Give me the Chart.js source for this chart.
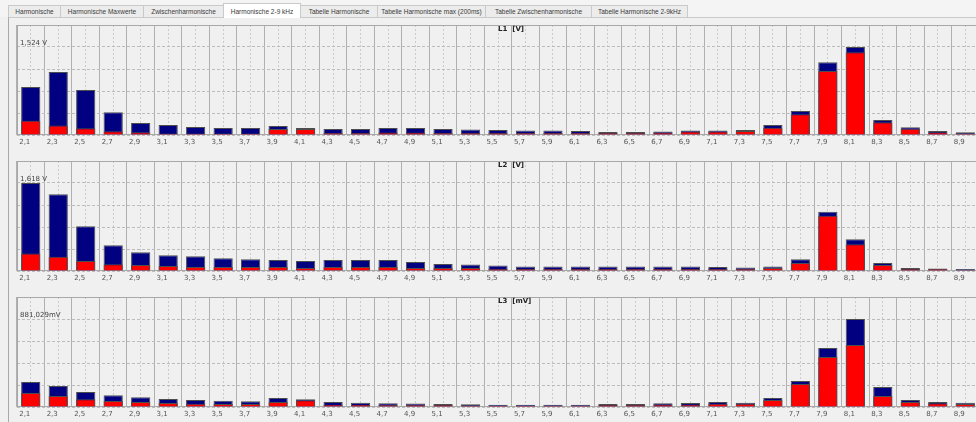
<!DOCTYPE html>
<html>
<head>
<meta charset="utf-8">
<script src="https://cdn.jsdelivr.net/npm/chart.js@4.4.1/dist/chart.umd.min.js"></script>
<style>
  html, body { margin: 0; padding: 0; background: #f0f0f0; width: 976px; height: 422px; overflow: hidden;
               font-family: "Liberation Sans", Arial, sans-serif; }
  #tabs { position: absolute; left: 0; top: 0; width: 976px; height: 17px; background: #f4f4f4; }
  .tab { position: absolute; top: 5px; height: 11px; border: 1px solid #c9c9c9; border-bottom: none;
         background: #ececec; font-size: 6.5px; line-height: 12px; text-align: center; color: #3a3a3a;
         white-space: nowrap; overflow: hidden; }
  .tab.active { top: 3px; height: 14px; background: #ffffff; line-height: 16px; z-index: 2; }
  #frame { position: absolute; left: 8px; top: 17px; width: 990px; height: 420px;
           border-left: 1px solid #a9a9a9; border-top: 1px solid #c9c9c9; }
  canvas { position: absolute; left: 0; }
</style>
</head>
<body>
<div id="tabs"></div>
<div id="frame"></div>
<canvas id="c1" width="980" height="136" style="top:20px"></canvas>
<canvas id="c2" width="980" height="136" style="top:156px"></canvas>
<canvas id="c3" width="980" height="136" style="top:292px"></canvas>
<script>
// Tab strip
const tabNames = ['Harmonische', 'Harmonische Maxwerte', 'Zwischenharmonische', 'Harmonische 2-9 kHz',
                  'Tabelle Harmonische', 'Tabelle Harmonische max (200ms)', 'Tabelle Zwischenharmonische',
                  'Tabelle Harmonische 2-9kHz'];
const tabEdges = [8, 60, 143, 223, 300, 377, 485, 591, 687];
const activeTab = 3;

// Frequency bins (kHz)
const categories = ['2,1','2,3','2,5','2,7','2,9','3,1','3,3','3,5','3,7','3,9','4,1','4,3','4,5','4,7','4,9',
                    '5,1','5,3','5,5','5,7','5,9','6,1','6,3','6,5','6,7','6,9','7,1','7,3','7,5','7,7','7,9',
                    '8,1','8,3','8,5','8,7','8,9'];

// L1 [V]: maximum (navy) and present value (red)
const l1Max = [0.831, 1.091, 0.779, 0.393, 0.208, 0.173, 0.139, 0.121, 0.121, 0.156, 0.121, 0.104, 0.104, 0.121,
               0.121, 0.104, 0.095, 0.087, 0.078, 0.078, 0.069, 0.052, 0.052, 0.061, 0.078, 0.078, 0.087, 0.173,
               0.416, 1.259, 1.524, 0.260, 0.133, 0.069, 0.047];
const l1Val = [0.248, 0.163, 0.116, 0.064, 0.047, 0.026, 0.026, 0.026, 0.026, 0.104, 0.104, 0.035, 0.035, 0.043,
               0.043, 0.035, 0.035, 0.035, 0.035, 0.035, 0.035, 0.035, 0.035, 0.043, 0.061, 0.061, 0.069, 0.126,
               0.359, 1.108, 1.432, 0.220, 0.109, 0.047, 0.029];

// L2 [V]
const l2Max = [1.618, 1.413, 0.824, 0.473, 0.345, 0.291, 0.273, 0.236, 0.218, 0.200, 0.182, 0.200, 0.200, 0.200,
               0.164, 0.127, 0.118, 0.100, 0.082, 0.082, 0.082, 0.082, 0.082, 0.082, 0.082, 0.073, 0.064, 0.082,
               0.218, 1.091, 0.582, 0.145, 0.055, 0.045, 0.036];
const l2Val = [0.322, 0.260, 0.182, 0.122, 0.109, 0.091, 0.073, 0.073, 0.073, 0.073, 0.055, 0.073, 0.073, 0.073,
               0.055, 0.055, 0.055, 0.036, 0.036, 0.036, 0.036, 0.036, 0.036, 0.036, 0.036, 0.036, 0.036, 0.055,
               0.145, 1.018, 0.491, 0.109, 0.036, 0.036, 0.018];

// L3 [mV]
const l3Max = [250, 210, 150, 117, 97, 80, 70, 63, 57, 90, 77, 50, 43, 37, 35, 30, 27, 23, 23, 23, 23, 30, 30,
               37, 40, 50, 43, 90, 260, 591, 881.029, 200, 70, 50, 43];
const l3Val = [140, 110, 77, 60, 50, 40, 33, 30, 30, 50, 67, 23, 23, 20, 20, 20, 17, 15, 15, 15, 15, 20, 20,
               25, 25, 33, 33, 70, 230, 500, 620, 110, 50, 37, 30];

const titles = ['L1  [V]', 'L2  [V]', 'L3  [mV]'];
const peakValues = [1.524, 1.618, 881.029];
const peakLabels = ['1,524 V', '1,618 V', '881,029mV'];

// build the tab strip
const tabsEl = document.getElementById('tabs');
tabNames.forEach((name, i) => {
  const d = document.createElement('div');
  d.className = 'tab' + (i === activeTab ? ' active' : '');
  d.style.left = tabEdges[i] + 'px';
  d.style.width = (tabEdges[i + 1] - tabEdges[i] - 1) + 'px';
  d.textContent = name;
  tabsEl.appendChild(d);
});

// plot frame, panel title and peak marker text
const panelDecor = {
  id: 'panelDecor',
  beforeDatasetsDraw(chart) {
    const { ctx, chartArea: a } = chart;
    ctx.save();
    ctx.strokeStyle = '#a8a8a8';
    ctx.lineWidth = 1;
    ctx.strokeRect(a.left + 0.5, a.top + 0.5, a.right - a.left - 1, a.bottom - a.top - 1);
    ctx.restore();
  },
  afterDatasetsDraw(chart, args, opts) {
    const { ctx, chartArea: a } = chart;
    const y = chart.scales.y.getPixelForValue(opts.peak);
    ctx.save();
    ctx.fillStyle = '#444';
    ctx.font = '7px "DejaVu Sans"';
    ctx.textAlign = 'left';
    ctx.textBaseline = 'bottom';
    ctx.fillText(opts.peakLabel, a.left + 3, y - 0.5);
    ctx.fillStyle = '#222';
    ctx.font = 'bold 7px "DejaVu Sans"';
    ctx.textBaseline = 'top';
    ctx.fillText(opts.title, (a.left + a.right) / 2, a.top + 1);
    ctx.restore();
  }
};

function makePanel(id, maxData, valData, peak, title, peakLabel) {
  return new Chart(document.getElementById(id), {
    type: 'bar',
    data: {
      labels: categories,
      datasets: [
        { data: valData, backgroundColor: '#ff0000', borderColor: '#4d4d4d', borderWidth: 1, order: 1 },
        { data: maxData, backgroundColor: '#000080', borderColor: '#4d4d4d', borderWidth: 1, order: 2 }
      ]
    },
    options: {
      responsive: false,
      animation: false,
      devicePixelRatio: 1,
      layout: { padding: { left: 17, right: 1, top: 5, bottom: 0 } },
      datasets: { bar: { grouped: false, categoryPercentage: 1, barPercentage: 0.7 } },
      plugins: {
        legend: { display: false },
        tooltip: { enabled: false },
        panelDecor: { title, peakLabel, peak }
      },
      scales: {
        x: {
          type: 'category', offset: true,
          grid: { offset: true, color: '#b0b0b0', drawTicks: false },
          border: { display: false },
          ticks: { font: { family: 'DejaVu Sans', size: 7 }, color: '#555', padding: 3,
                   autoSkip: false, maxRotation: 0, minRotation: 0, labelOffset: -6 },
          afterFit: s => { s.height = 21; }
        },
        x2: {
          type: 'category', position: 'bottom', offset: true,
          grid: { offset: false, color: '#cacaca', drawTicks: false },
          border: { display: false, dash: [2, 2] },
          ticks: { display: false },
          afterFit: s => { s.height = 0; }
        },
        y: {
          min: 0, max: peak * 1.25,
          grid: { color: '#bcbcbc', drawTicks: false },
          border: { display: false, dash: [3, 2] },
          ticks: { display: false },
          afterBuildTicks: s => { s.ticks = [0, 1, 2, 3, 4, 5].map(i => ({ value: peak * i / 4 })); },
          afterFit: s => { s.width = 0; }
        }
      }
    },
    plugins: [panelDecor]
  });
}

makePanel('c1', l1Max, l1Val, peakValues[0], titles[0], peakLabels[0]);
makePanel('c2', l2Max, l2Val, peakValues[1], titles[1], peakLabels[1]);
makePanel('c3', l3Max, l3Val, peakValues[2], titles[2], peakLabels[2]);
</script>
</body>
</html>
